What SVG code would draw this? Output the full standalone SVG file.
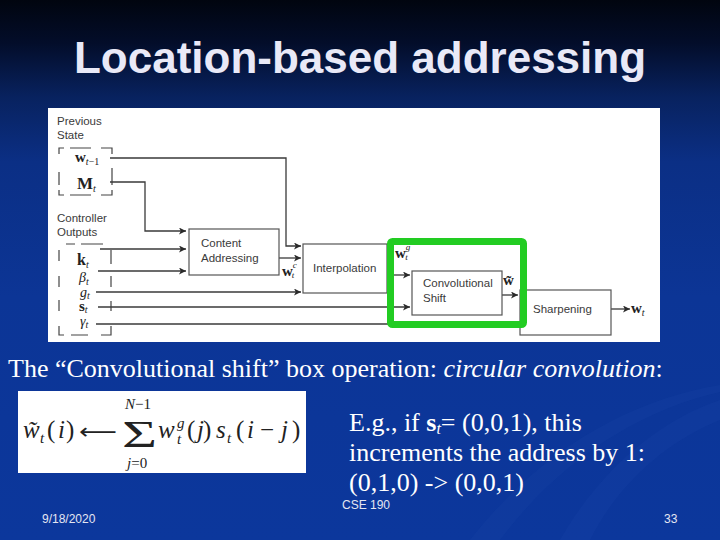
<svg xmlns="http://www.w3.org/2000/svg" width="720" height="540" viewBox="0 0 720 540">
<defs>
<linearGradient id="bg" x1="0" y1="0" x2="0" y2="1">
<stop offset="0" stop-color="#01050f"/>
<stop offset="0.08" stop-color="#030d2a"/>
<stop offset="0.18" stop-color="#08225f"/>
<stop offset="0.3" stop-color="#0b2f85"/>
<stop offset="0.55" stop-color="#0c3596"/>
<stop offset="1" stop-color="#0c379c"/>
</linearGradient>
<marker id="ah" viewBox="0 0 10 10" refX="10" refY="5" markerWidth="9" markerHeight="7" markerUnits="userSpaceOnUse" orient="auto">
<path d="M0,0 L10,5 L0,10 L2.5,5 z" fill="#2a2a2a"/>
</marker>
<style>
.lbl{font-family:"Liberation Sans",Arial,sans-serif;font-size:11.5px;fill:#3a3a3a}
.box{fill:#ffffff;stroke:#555;stroke-width:1.2}
.ar{fill:none;stroke:#3a3a3a;stroke-width:1.3;marker-end:url(#ah)}
.dash{fill:none;stroke:#444;stroke-width:1.2}
.m{font-family:"Liberation Serif","Times New Roman",serif;fill:#222}
.mb{font-weight:bold}
.mi{font-style:italic}
.wt{font-family:"Liberation Serif","Times New Roman",serif;fill:#ffffff}
.ft{font-family:"Liberation Sans",Arial,sans-serif;font-size:12px;fill:#e4e6f2}
</style>
</defs>
<rect x="0" y="0" width="720" height="540" fill="url(#bg)"/>
<path d="M560,540 C600,470 660,420 720,400 L720,420 C670,440 620,480 590,540 Z" fill="#2a55b8" opacity="0.12"/>
<path d="M470,540 C540,450 630,400 720,385 L720,392 C640,410 560,460 500,540 Z" fill="#3060c0" opacity="0.08"/>

<text x="360" y="73" text-anchor="middle" font-family="Liberation Sans, Arial, sans-serif" font-weight="bold" font-size="44" fill="#e9e9f7">Location-based addressing</text>

<rect x="48" y="108" width="612" height="234" fill="#ffffff"/>

<g id="prev-state">
<text class="lbl" x="57" y="125">Previous</text>
<text class="lbl" x="57" y="139">State</text>
<path class="dash" d="M59,154 V148 H64 M70,148 H91 M101,148 H112 V154 M59,172 V185 M112,168 V185 M59,190 V195 H64 M70,195 H91 M101,195 H112 V190"/>
<text class="m" x="75" y="162"><tspan class="mb" font-size="15">w</tspan><tspan font-size="10" dy="3"><tspan class="mi">t</tspan>−1</tspan></text>
<text class="m" x="77" y="189"><tspan class="mb" font-size="17">M</tspan><tspan class="mi" font-size="10" dy="3">t</tspan></text>
</g>

<g id="ctrl-out">
<text class="lbl" x="57" y="222">Controller</text>
<text class="lbl" x="57" y="236">Outputs</text>
<path class="dash" d="M66,244 H75 M81,244 H103 M59,250 V261 M59,276 V287 M59,300 V311 M59,326 V335 H64 M71,335 H88 M101,335 H111 V326 M111,250 V264 M111,276 V287 M111,301 V311"/>
<text class="m" x="77" y="265"><tspan class="mb" font-size="16">k</tspan><tspan class="mi" font-size="10" dy="3">t</tspan></text>
<text class="m" x="79" y="282"><tspan class="mi" font-size="14">β</tspan><tspan class="mi" font-size="10" dy="3">t</tspan></text>
<text class="m" x="80" y="297"><tspan class="mi" font-size="14">g</tspan><tspan class="mi" font-size="10" dy="2">t</tspan></text>
<text class="m" x="79" y="311"><tspan class="mb" font-size="15">s</tspan><tspan class="mi" font-size="10" dy="2">t</tspan></text>
<text class="m" x="80" y="326"><tspan class="mi" font-size="14">γ</tspan><tspan class="mi" font-size="10" dy="2">t</tspan></text>
</g>

<g id="connectors">
<path class="ar" d="M110,158 H286 V246 H301"/>
<path class="ar" d="M110,182 H145 V231 H186"/>
<path class="ar" d="M100,249 H186"/>
<path class="ar" d="M98,271 H186"/>
<path class="ar" d="M96,292 H301"/>
<path class="ar" d="M279,258 H301"/>
<path class="ar" d="M98,307 H410" stroke-width="1.8"/>
<path class="ar" d="M96,324 H519" stroke="#777"/>
<path class="ar" d="M387,275 H410"/>
<path class="ar" d="M502,295 H518"/>
<path class="ar" d="M611,309 H630"/>
</g>

<g id="content-addressing">
<rect class="box" x="189" y="229" width="90" height="46"/>
<text class="lbl" x="201" y="247">Content</text>
<text class="lbl" x="201" y="262">Addressing</text>
</g>
<text class="m" x="282" y="276"><tspan class="mb" font-size="15">w</tspan><tspan class="mi" font-size="9" dy="-8">c</tspan><tspan class="mi" font-size="9" dx="-5" dy="10">t</tspan></text>

<g id="interpolation">
<rect class="box" x="303" y="244" width="84" height="49"/>
<text class="lbl" x="313" y="272">Interpolation</text>
</g>

<g id="conv-shift">
<rect class="box" x="412" y="271" width="90" height="44"/>
<text class="lbl" x="423" y="287">Convolutional</text>
<text class="lbl" x="423" y="302">Shift</text>
</g>
<text class="m" x="395" y="258"><tspan class="mb" font-size="15">w</tspan><tspan class="mi" font-size="9" dy="-8">g</tspan><tspan class="mi" font-size="9" dx="-5" dy="10">t</tspan></text>
<text class="m mb" x="503" y="285" font-size="15">w̃</text>

<g id="sharpening">
<rect class="box" x="520" y="290" width="91" height="45"/>
<text class="lbl" x="533" y="313">Sharpening</text>
</g>
<text class="m" x="631" y="313"><tspan class="mb" font-size="15">w</tspan><tspan class="mi" font-size="10" dy="3">t</tspan></text>

<rect id="highlight" x="390.5" y="241.5" width="133" height="83" rx="2" fill="none" stroke="#22cc22" stroke-width="7"/>

<text class="wt" x="8" y="377" font-size="26">The “Convolutional shift” box operation: <tspan font-style="italic">circular convolution</tspan>:</text>

<g id="formula">
<rect x="18" y="391" width="288" height="82" fill="#ffffff"/>
<text class="m mi" x="23" y="438" font-size="25">w̃</text>
<text class="m mi" x="40" y="443" font-size="15">t</text>
<text class="m" x="47 58 66" y="438" font-size="25">(<tspan font-style="italic">i</tspan>)</text>
<text x="79" y="439" font-family="DejaVu Sans, sans-serif" font-size="22" fill="#222" textLength="38" lengthAdjust="spacingAndGlyphs">⟵</text>
<text class="m" x="122" y="447" font-size="38" textLength="35" lengthAdjust="spacingAndGlyphs">Σ</text>
<text class="m" x="125" y="409" font-size="15"><tspan font-style="italic">N</tspan>−1</text>
<text class="m" x="127" y="468" font-size="15"><tspan font-style="italic">j</tspan>=0</text>
<text class="m mi" x="158" y="438" font-size="25">w</text>
<text class="m mi" x="177" y="428" font-size="15">g</text>
<text class="m mi" x="177" y="444" font-size="15">t</text>
<text class="m" x="187 197 203" y="438" font-size="25">(<tspan font-style="italic">j</tspan>)</text>
<text class="m mi" x="216" y="438" font-size="25">s</text>
<text class="m mi" x="227" y="443" font-size="15">t</text>
<text class="m" x="236 247 260 281 292" y="438" font-size="25">(<tspan font-style="italic">i</tspan>−<tspan font-style="italic">j</tspan>)</text>
</g>

<text class="wt" x="349" y="431" font-size="26">E.g., if <tspan font-weight="bold">s</tspan><tspan font-style="italic" font-size="16" dy="3">t</tspan><tspan dy="-3">= (0,0,1), this</tspan></text>
<text class="wt" x="349" y="461" font-size="26">increments the address by 1:</text>
<text class="wt" x="349" y="491" font-size="26">(0,1,0) -&gt; (0,0,1)</text>

<text class="ft" x="342" y="509">CSE 190</text>
<text class="ft" x="42" y="523">9/18/2020</text>
<text class="ft" x="664" y="523">33</text>
</svg>
